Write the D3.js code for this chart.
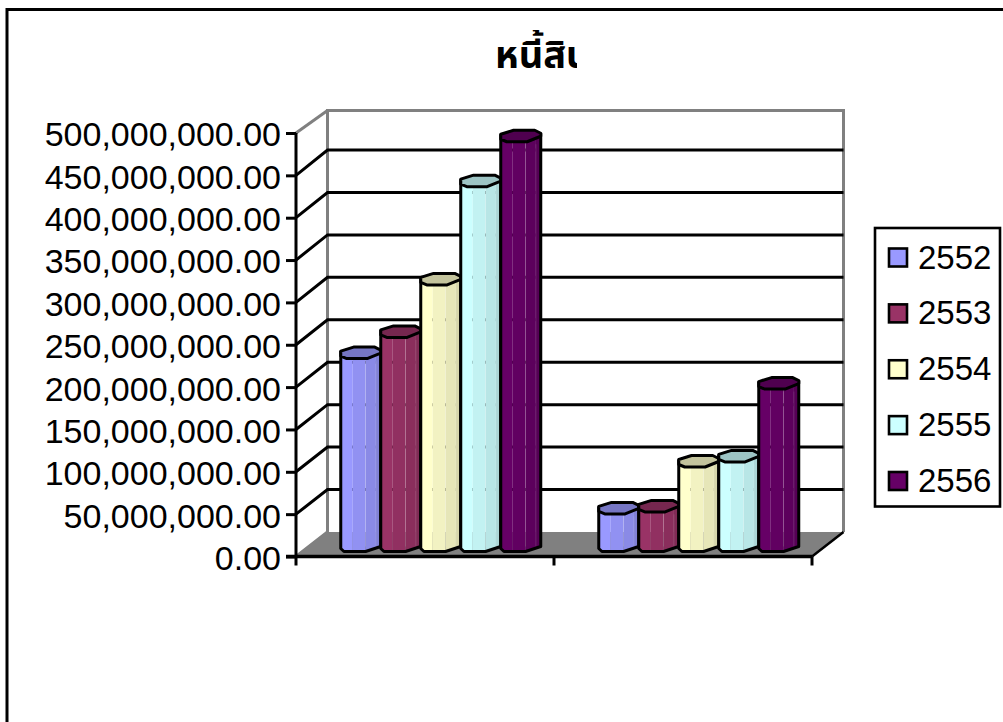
<!DOCTYPE html>
<html><head><meta charset="utf-8">
<script src="https://cdnjs.cloudflare.com/ajax/libs/d3/7.8.5/d3.min.js"></script>
<style>html,body{margin:0;padding:0;background:#fff;overflow:hidden}svg{display:block}
text{font-family:"Liberation Sans",Arial,sans-serif;fill:#000}</style></head>
<body><svg id="c" width="1003" height="722"></svg>
<script>
const titleText = "หนี้สิน";
const categories = ["A", "B"];
const years = ["2552", "2553", "2554", "2555", "2556"];
const colors = ["#9999ff", "#993366", "#ffffcc", "#ccffff", "#660066"];
const valuesA = [226000000, 251000000, 313000000, 429000000, 482000000];
const valuesB = [42600000, 45000000, 98000000, 104000000, 190000000];
const tickValues = d3.range(0, 500000001, 50000000);
const seriesByCategory = [valuesA, valuesB];

const svg = d3.select("#c");
const dx = 31.5, dy = -24;
const y = d3.scaleLinear().domain([0, 500000000]).range([556.5, 133]);
const yBack = d3.scaleLinear().domain([0, 500000000]).range([532, 107.6]);
const x0 = d3.scaleBand().domain(categories).range([296, 812]);
const x1 = d3.scaleBand().domain(years).range([-100, 100]);
const fmt = d3.format(",.2f");
const [fl, fr] = x0.range();
const backTop = 110.5;

// frame
svg.append("rect").attr("x", 7).attr("y", 9.5).attr("width", 1100).attr("height", 800)
  .attr("fill", "#fff").attr("stroke", "#000").attr("stroke-width", 3);

// title
const defs = svg.append("defs");
defs.append("clipPath").attr("id", "tc").append("rect").attr("x", 480).attr("y", 30).attr("width", 97).attr("height", 60);
svg.append("text").attr("clip-path", "url(#tc)").attr("x", 495).attr("y", 68)
  .attr("style", "font-family:'Noto Sans','Noto Sans Thai',sans-serif").attr("font-weight", "bold").attr("font-size", 38).text(titleText);

// floor
svg.append("path").attr("fill", "#808080").attr("d",
  d3.line()([[fl, y(0)], [fl + dx, yBack(0)], [fr + dx, yBack(0)], [fr, y(0)]]));
// walls
const wall = svg.append("g").attr("fill", "none").attr("stroke", "#808080").attr("stroke-width", 3);
wall.append("path").attr("d", d3.line()([[fl, y(0)], [fl + dx, yBack(0)], [fl + dx, backTop], [fr + dx, backTop], [fr + dx, yBack(0)]]));
wall.append("path").attr("d", d3.line()([[fl, y(500000000)], [fl + dx, backTop]]));

// gridlines
const grid = tickValues.filter(v => v > 0 && v < 500000000);
svg.append("g").selectAll("path").data(grid).join("path").attr("fill", "none").attr("stroke", "#000").attr("stroke-width", 3)
  .attr("d", v => d3.line()([[fl, y(v)], [fl + dx, yBack(v)], [fr + dx, yBack(v)]]));
svg.append("path").attr("stroke", "#000").attr("stroke-width", 2.5).attr("fill", "none")
  .attr("d", d3.line()([[fr, y(0)], [fr + dx, yBack(0)]]));

// bars
const facets = [[0, .3, 1], [.3, .62, .95], [.62, .88, .9], [.88, 1, .84]];
const capPts = [[0, -2], [.32, -6], [.85, -6], [1, -3], [1, 0], [.66, 5.5], [.15, 5.5], [0, 3]];
const botPts = [[0, 4], [.08, 7], [.62, 7], [1, 2]];
const botAt = u => {
  for (let i = 1; i < botPts.length; i++) if (u <= botPts[i][0]) {
    const [a, b] = [botPts[i - 1], botPts[i]];
    return a[1] + (b[1] - a[1]) * (u - a[0]) / (b[0] - a[0]);
  }
  return 2;
};
const shade = (c, k) => { const r = d3.rgb(c); return d3.rgb(r.r * k, r.g * k, r.b * k).formatHex(); };
const yb = y(0) + dy / 2, ox = dx / 2;
const groups = svg.append("g").selectAll("g").data(categories).join("g");
groups.each(function (cat, ci) {
  const g = d3.select(this);
  const cx = x0(cat) + x0.bandwidth() / 2 + ox;
  seriesByCategory[ci].forEach((v, si) => {
    const yr = years[si], L = cx + x1(yr), w = x1.bandwidth(), top = y(v) + dy / 2;
    const b = g.append("g");
    facets.forEach(([a, c, k]) => {
      const pts = [[L + a * w, top], [L + c * w, top]];
      const n = [c, ...botPts.map(p => p[0]).filter(u => u < c && u > a).reverse(), a];
      n.forEach(u => pts.push([L + u * w, yb + botAt(u)]));
      b.append("path").attr("d", d3.line()(pts)).attr("fill", shade(colors[si], k));
    });
    [.62, .88].forEach(u => b.append("line").attr("x1", L + u * w).attr("x2", L + u * w).attr("y1", top + 8).attr("y2", yb + 2)
      .attr("stroke", "#fff").attr("stroke-opacity", .12).attr("stroke-width", 1));
    const outline = [[L, top - 2], [L, yb + 4], ...botPts.map(p => [L + p[0] * w, yb + p[1]]), [L + w, top - 3]];
    b.append("path").attr("d", d3.line()(outline)).attr("fill", "none").attr("stroke", "#000").attr("stroke-width", 3).attr("stroke-linejoin", "round");
    b.append("path").attr("d", d3.line().curve(d3.curveLinearClosed)(capPts.map(p => [L + p[0] * w, top + p[1]])))
      .attr("fill", shade(colors[si], .77)).attr("stroke", "#000").attr("stroke-width", 3).attr("stroke-linejoin", "round");
  });
});

// y axis
const ax = svg.append("g").attr("transform", `translate(${fl},0)`)
  .call(d3.axisLeft(y).tickValues(tickValues).tickFormat(fmt).tickSize(10).tickPadding(5));
ax.select(".domain").attr("stroke", "#000").attr("stroke-width", 3).attr("d", `M0,${y(500000000)}V${y(0)}`);
ax.selectAll("line").attr("stroke", "#000").attr("stroke-width", 3);
ax.selectAll("text").attr("dy", "0.38em")
  .attr("style", "font-family:'Liberation Sans',Arial,sans-serif;font-size:34px;fill:#000");

// x axis (blank labels)
const xax = svg.append("g").attr("transform", `translate(0,${y(0)})`);
xax.append("line").attr("x1", fl - 10).attr("x2", fr).attr("stroke", "#000").attr("stroke-width", 3.5);
xax.selectAll("line.t").data([fl, x0(categories[1]), fr]).join("line").attr("class", "t")
  .attr("x1", d => d).attr("x2", d => d).attr("y1", 0).attr("y2", 9).attr("stroke", "#000").attr("stroke-width", 3);

// legend
const lg = svg.append("g");
lg.append("rect").attr("x", 875).attr("y", 228).attr("width", 125).attr("height", 278.5)
  .attr("fill", "#fff").attr("stroke", "#000").attr("stroke-width", 2.6);
const ly = d3.scalePoint().domain(years).range([257.5, 481]);
years.forEach((yr, i) => {
  lg.append("rect").attr("x", 889).attr("y", ly(yr) - 9).attr("width", 18).attr("height", 18)
    .attr("fill", colors[i]).attr("stroke", "#000").attr("stroke-width", 2.6);
  lg.append("text").attr("x", 918).attr("y", ly(yr) + 11).attr("font-size", 33).text(yr);
});
</script></body></html>
